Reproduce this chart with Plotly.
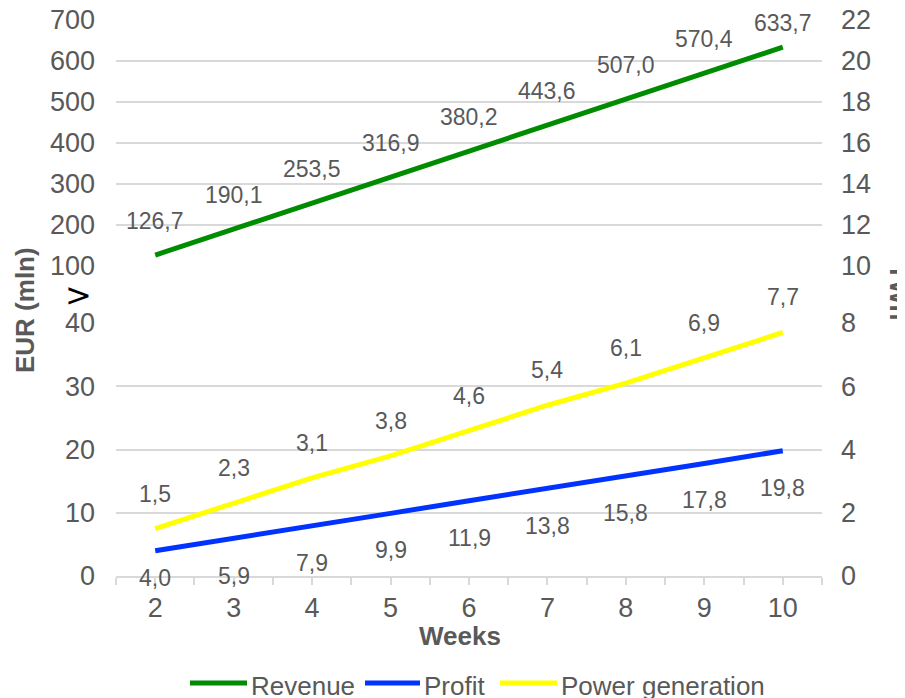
import plotly.graph_objects as go

weeks = [2, 3, 4, 5, 6, 7, 8, 9, 10]
revenue = [126.7, 190.1, 253.5, 316.9, 380.2, 443.6, 507.0, 570.4, 633.7]
profit = [4.0, 5.9, 7.9, 9.9, 11.9, 13.8, 15.8, 17.8, 19.8]
power = [1.5, 2.3, 3.1, 3.8, 4.6, 5.4, 6.1, 6.9, 7.7]
series_names = ["Revenue", "Profit", "Power generation"]

left_top_ticks = [100, 200, 300, 400, 500, 600, 700]
left_bot_ticks = [0, 10, 20, 30, 40]
right_top_ticks = [10, 12, 14, 16, 18, 20, 22]
right_bot_ticks = [0, 2, 4, 6, 8]

GREEN = "#008c00"
BLUE = "#0033ff"
YELLOW = "#ffff00"
TXT = "#595959"
GRID = "#d9d9d9"
FONT = "Liberation Sans, Arial, sans-serif"

# page body has an 8px margin; figure is sized so its right/bottom edges meet the window
OFF = 8
W, H = 905 - OFF, 698 - OFF
ML, MR, MT, MB = 116 - OFF, 83, 20 - OFF, 122
PH = H - MT - MB
PW = W - ML - MR
top_dom = [(576 - 266) / PH, 1.0]
bot_dom = [0.0, (576 - 323) / PH]

fig = go.Figure()
fig.add_trace(go.Scatter(x=weeks, y=revenue, name=series_names[0], mode="lines",
                         line=dict(color=GREEN, width=5), xaxis="x", yaxis="y"))
fig.add_trace(go.Scatter(x=weeks, y=profit, name=series_names[1], mode="lines",
                         line=dict(color=BLUE, width=5), xaxis="x", yaxis="y2"))
fig.add_trace(go.Scatter(x=weeks, y=power, name=series_names[2], mode="lines",
                         line=dict(color=YELLOW, width=5), xaxis="x", yaxis="y4"))
# empty trace so the upper right (TWh) axis is drawn
fig.add_trace(go.Scatter(x=weeks, y=[None] * len(weeks), mode="lines", showlegend=False,
                         hoverinfo="skip", xaxis="x", yaxis="y3"))

def fmt(v):
    return f"{v:.1f}".replace(".", ",")

top_scale = (266 - 20) / (700 - 100)
bot_scale = (576 - 323) / 40

LBL = dict(size=23, color=TXT, family=FONT)
anns = []
for x, v in zip(weeks, revenue):
    ppx = 20 + (700 - v) * top_scale
    sh = min(34, ppx - 23)
    anns.append(dict(x=x, y=v, xref="x", yref="y", text=fmt(v), showarrow=False,
                     yshift=sh, yanchor="middle", font=LBL))
for x, v in zip(weeks, power):
    anns.append(dict(x=x, y=v, xref="x", yref="y4", text=fmt(v), showarrow=False,
                     yshift=35, yanchor="middle", font=LBL))
for x, v in zip(weeks, profit):
    ppx = 576 - v * bot_scale
    sh = -min(37, 578 - ppx)
    anns.append(dict(x=x, y=v, xref="x", yref="y2", text=fmt(v), showarrow=False,
                     yshift=sh, yanchor="middle", font=LBL))

# page pixel -> paper coordinates
def px_x(p):
    return (p - OFF - ML) / PW

def px_y(p):
    return (576 - p) / PH

TITLE = dict(size=26, color=TXT, family=FONT)
anns.append(dict(x=px_x(25), y=px_y(310), xref="paper", yref="paper", text="<b>EUR (mln)</b>",
                 showarrow=False, textangle=-90, xanchor="center", yanchor="middle", font=TITLE))
anns.append(dict(x=px_x(899), y=px_y(292), xref="paper", yref="paper", text="<b>TWh</b>",
                 showarrow=False, textangle=90, xanchor="center", yanchor="middle", font=TITLE))
anns.append(dict(x=px_x(460), y=px_y(636), xref="paper", yref="paper", text="<b>Weeks</b>",
                 showarrow=False, xanchor="center", yanchor="middle", font=TITLE))
anns.append(dict(x=px_x(78), y=px_y(295), xref="paper", yref="paper", text=">",
                 showarrow=False, xanchor="center", yanchor="middle",
                 font=dict(size=32, color="#000000", family="DejaVu Sans, sans-serif")))

# custom legend (line sample + label)
shapes = []
leg_items = [(GREEN, series_names[0], 190, 247), (BLUE, series_names[1], 365, 420),
             (YELLOW, series_names[2], 500, 557)]
for col, name, x0, x1 in leg_items:
    shapes.append(dict(type="line", xref="paper", yref="paper", x0=px_x(x0), x1=px_x(x1),
                       y0=px_y(683), y1=px_y(683), line=dict(color=col, width=5)))
    anns.append(dict(x=px_x(x1 + 2), y=px_y(686), xref="paper", yref="paper", text=name,
                     showarrow=False, xanchor="left", yanchor="middle",
                     font=dict(size=26, color=TXT, family=FONT)))

tickfont = dict(size=27, color=TXT, family=FONT)

fig.update_layout(
    width=W, height=H,
    margin=dict(l=ML, r=MR, t=MT, b=MB, autoexpand=False),
    paper_bgcolor="white", plot_bgcolor="white",
    font=dict(family=FONT, color=TXT),
    showlegend=False,
    xaxis=dict(range=[1.5, 10.5], tickvals=weeks, ticktext=[str(w) for w in weeks],
               anchor="y2", showgrid=False, zeroline=False, showline=True, linecolor=GRID, linewidth=1.5,
               ticks="outside", ticklen=7, tickcolor=GRID, tickwidth=1.5, tickfont=tickfont,
               ticklabelstandoff=0, automargin=False, ticklabeloverflow="allow",
               minor=dict(tick0=1.5, dtick=0.5, ticks="outside", ticklen=7, tickcolor=GRID, tickwidth=1.5)),
    yaxis=dict(domain=top_dom, range=[100, 700], tickvals=left_top_ticks, anchor="x",
               showgrid=True, gridcolor=GRID, gridwidth=1.5, zeroline=False, showline=False,
               tickfont=tickfont, ticklabelstandoff=20, automargin=False, ticklabeloverflow="allow"),
    yaxis2=dict(domain=bot_dom, range=[0, 40], tickvals=left_bot_ticks, anchor="x",
                showgrid=True, gridcolor=GRID, gridwidth=1.5, zeroline=False, showline=False,
                tickfont=tickfont, ticklabelstandoff=20, automargin=False, ticklabeloverflow="allow"),
    yaxis3=dict(overlaying="y", side="right", range=[10, 22], tickvals=right_top_ticks, anchor="x",
                showgrid=False, zeroline=False, showline=False, tickfont=tickfont,
                ticklabelstandoff=18, automargin=False, ticklabeloverflow="allow"),
    yaxis4=dict(overlaying="y2", side="right", range=[0, 8], tickvals=right_bot_ticks, anchor="x",
                showgrid=False, zeroline=False, showline=False, tickfont=tickfont,
                ticklabelstandoff=18, automargin=False, ticklabeloverflow="allow"),
    annotations=anns,
    shapes=shapes,
)

fig.write_html("out.html")
